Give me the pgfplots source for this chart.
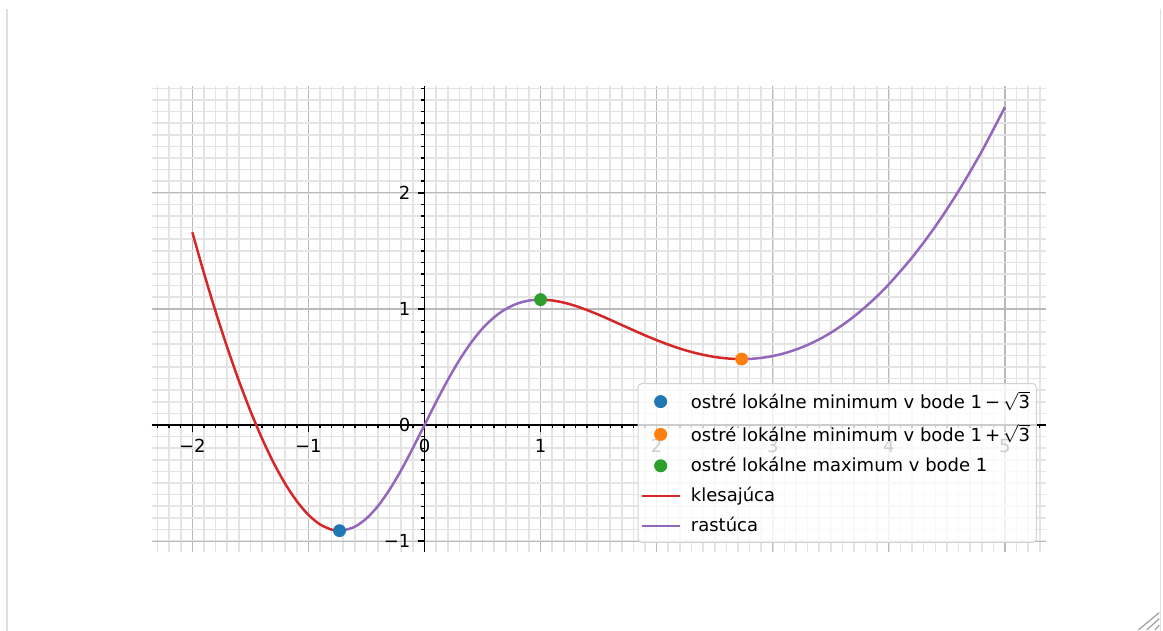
\documentclass[border=0pt]{standalone}
\usepackage{fontspec}
\setmainfont{DejaVu Sans}
\usepackage{pgfplots}
\pgfplotsset{compat=1.18}

\definecolor{mplblue}{RGB}{31,119,180}
\definecolor{mplorange}{RGB}{255,127,14}
\definecolor{mplgreen}{RGB}{44,160,44}
\definecolor{mplred}{RGB}{214,39,40}
\definecolor{mplpurple}{RGB}{148,103,189}
\definecolor{majgrid}{RGB}{185,185,185}
\definecolor{mingrid}{RGB}{228,228,228}
\definecolor{legedge}{RGB}{210,210,210}
\definecolor{frameline}{RGB}{224,224,224}

\newcommand{\rt}[1]{$\sqrt{\mbox{#1}}$}

% f(x) = x^2/2 - 3x - ln(1+x^2)/2 + 5 arctan x, sampled values
% decreasing on [-2, 1-sqrt3]
\pgfplotstableread{
x y
-2.0 1.660
-1.9 1.309
-1.8 0.979
-1.7 0.670
-1.6 0.384
-1.5 0.122
-1.4 -0.115
-1.3 -0.325
-1.2 -0.506
-1.1 -0.656
-1.0 -0.774
-0.9 -0.856
-0.8 -0.901
-0.732 -0.910
}\segA
% increasing on [1-sqrt3, 1]
\pgfplotstableread{
x y
-0.732 -0.910
-0.7 -0.908
-0.6 -0.876
-0.5 -0.805
-0.4 -0.697
-0.3 -0.555
-0.2 -0.387
-0.1 -0.198
0.0 0.000
0.1 0.198
0.2 0.387
0.3 0.559
0.4 0.708
0.5 0.832
0.6 0.928
0.7 0.999
0.8 1.046
0.9 1.072
1.0 1.080
}\segB
% decreasing on [1, 1+sqrt3]
\pgfplotstableread{
x y
1.0 1.080
1.1 1.073
1.2 1.054
1.3 1.026
1.4 0.990
1.5 0.950
1.6 0.906
1.7 0.861
1.8 0.816
1.9 0.772
2.0 0.731
2.1 0.693
2.2 0.658
2.3 0.629
2.4 0.605
2.5 0.586
2.6 0.574
2.7 0.568
2.732 0.568
}\segC
% increasing on [1+sqrt3, 5]
\pgfplotstableread{
x y
2.732 0.568
2.8 0.569
2.9 0.578
3.0 0.594
3.1 0.618
3.2 0.650
3.3 0.690
3.4 0.738
3.5 0.795
3.6 0.861
3.7 0.935
3.8 1.019
3.9 1.111
4.0 1.212
4.2 1.443
4.4 1.710
4.6 2.015
4.8 2.357
5.0 2.738
}\segD

\pgfplotsset{
  dotlegend/.style={legend image code/.code={\draw[##1, fill opacity=1, draw opacity=1] plot coordinates {(9.5pt,0pt)};}},
  linelegend/.style={legend image code/.code={\draw[##1, draw opacity=1] (0pt,0pt) -- (19pt,0pt);}},
}

\begin{document}
\begin{tikzpicture}
\useasboundingbox (0,0) rectangle (581.5pt,315.5pt);
\begin{axis}[
  at={(75.85pt,39.6pt)}, anchor=south west,
  scale only axis, width=446.95pt, height=232.9pt,
  xmin=-2.35, xmax=5.35, ymin=-1.092, ymax=2.920,
  axis lines=middle,
  axis line style={-, line width=0.8pt, black},
  tick align=outside,
  major tick length=3.5pt, minor tick length=1.6pt,
  every tick/.style={black, line width=0.7pt},
  xtick={-2,-1,0,1,2,3,4,5},
  xticklabels={−2,−1,0,1,2,3,4,5},
  ytick={-1,0,1,2},
  yticklabels={−1,0,1,2},
  minor xtick={-2.3,-2.2,...,5.31},
  minor ytick={-1.0,-0.9,...,2.91},
  hide obscured x ticks=false, hide obscured y ticks=false,
  grid=both,
  major grid style={majgrid, line width=0.6pt},
  minor grid style={mingrid, line width=0.8pt},
  ticklabel style={font=\fontsize{9}{11}\selectfont},
  legend cell align=left,
  legend style={
    at={(1,0)}, anchor=south east, xshift=-4.3pt, yshift=4.4pt,
    draw=legedge, line width=0.5pt, rounded corners=2pt,
    fill=white, fill opacity=0.8, draw opacity=1, text opacity=1,
    font=\fontsize{9}{11}\selectfont,
    inner xsep=1.2pt, inner ysep=2pt, row sep=2.3pt,
    nodes={inner sep=2pt},
    /tikz/every odd column/.append style={column sep=3pt},
  },
]
\addplot[mplred, line width=1.25pt, smooth, forget plot] table {\segA};
\addplot[mplpurple, line width=1.25pt, smooth, forget plot] table {\segB};
\addplot[mplred, line width=1.25pt, smooth, forget plot] table {\segC};
\addplot[mplpurple, line width=1.25pt, smooth, forget plot] table {\segD};

\addplot[only marks, mark=*, mark size=3pt, mplblue, dotlegend] coordinates {(-0.732,-0.910)};
\addlegendentry{ostré lokálne minimum v bode 1\,−\,\rt{3}}
\addplot[only marks, mark=*, mark size=3pt, mplorange, dotlegend] coordinates {(2.732,0.568)};
\addlegendentry{ostré lokálne minimum v bode 1\,+\,\rt{3}}
\addplot[only marks, mark=*, mark size=3pt, mplgreen, dotlegend] coordinates {(1,1.080)};
\addlegendentry{ostré lokálne maximum v bode 1}
\addlegendimage{mplred, line width=1.25pt, linelegend}
\addlegendentry{klesajúca}
\addlegendimage{mplpurple, line width=1.25pt, linelegend}
\addlegendentry{rastúca}
\end{axis}
% panel frame and resize grip
\draw[frameline, line width=0.6pt] (3.5pt,0pt) -- (3.5pt,311pt);
\draw[frameline, line width=0.6pt] (580.3pt,0pt) -- (580.3pt,311pt);
\draw[gray!75, line width=0.6pt] (569.2pt,0.5pt) -- (579.6pt,9.2pt);
\draw[gray!75, line width=0.6pt] (573.4pt,0.5pt) -- (579.6pt,6.2pt);
\draw[gray!75, line width=0.6pt] (577.5pt,0.5pt) -- (579.6pt,3.0pt);
\end{tikzpicture}
\end{document}
